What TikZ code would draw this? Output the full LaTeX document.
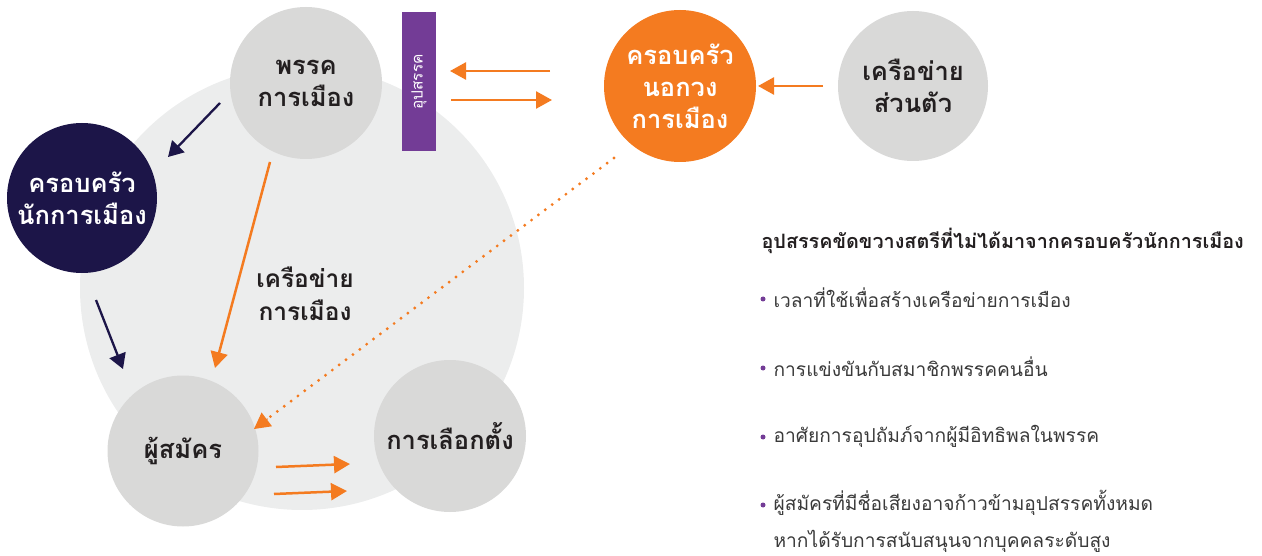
\documentclass[tikz,border=0pt]{standalone}
\usepackage{fontspec}
\newfontfamily\thai[Script=Thai]{Loma}
\usetikzlibrary{arrows.meta,calc}
\definecolor{bigc}{HTML}{ECEDED}
\definecolor{grayc}{HTML}{D9D9D8}
\definecolor{navy}{HTML}{1C1548}
\definecolor{orng}{HTML}{F47B20}
\definecolor{purp}{HTML}{733C96}
\definecolor{txt}{HTML}{231F20}
\definecolor{body}{HTML}{3A3A3A}
\tikzset{
  circ/.style={circle, minimum size=152pt, inner sep=0pt, align=center, font=\thai\bfseries\fontsize{25.5}{32}\selectfont, text=txt},
  oarrow/.style={draw=orng, line width=2.5pt, -{Triangle[length=16pt,width=17pt]}},
  narrow/.style={draw=navy, line width=2.3pt, -{Triangle[length=15pt,width=17pt]}},
  bullet/.style={anchor=west, align=left, font=\thai\fontsize{19.2}{37}\selectfont, text=body},
  dot/.style={circle, fill=purp, inner sep=0pt, minimum size=5pt}
}
\begin{document}
\begin{tikzpicture}[x=1pt,y=-1pt]
\useasboundingbox (0,0) rectangle (1262,556);
\node[circle, fill=bigc, minimum size=444pt, inner sep=0pt] (big) at (302,288) {};
\node[circ, fill=grayc] (party) at (306,83) {พรรค\\การเมือง};
\node[circ, fill=navy, text=white, minimum size=150pt] (fam) at (82,198) {ครอบครัว\\นักการเมือง};
\node[circ, fill=grayc, minimum size=151pt] (cand) at (183,451) {ผู้สมัคร};
\node[circ, fill=grayc] (elect) at (450,436) {การเลือกตั้ง};
\node[circ, fill=orng, text=white] (ofam) at (680,86) {ครอบครัว\\นอกวง\\การเมือง};
\node[circ, fill=grayc, minimum size=150pt] (pnet) at (913,86) {เครือข่าย\\ส่วนตัว};
\node[fill=purp, minimum width=34pt, minimum height=139pt, inner sep=0pt] (bar) at (419,82) {};
\node[rotate=90, text=white, font=\thai\fontsize{15.5}{17}\selectfont] (barlbl) at (bar.center) {อุปสรรค};
\node[font=\thai\bfseries\fontsize{24.5}{33}\selectfont, text=txt, align=center] (netlbl) at (305,294) {เครือข่าย\\การเมือง};
% arrow coordinates
\coordinate (a1s) at (550,71); \coordinate (a1e) at (450,71);
\coordinate (a2s) at (451,100); \coordinate (a2e) at (552,100);
\coordinate (a3s) at (823,86); \coordinate (a3e) at (758,86);
\coordinate (n1s) at (220,103); \coordinate (n1e) at (168,157);
\coordinate (n2s) at (96,300); \coordinate (n2e) at (123,369);
\coordinate (o1s) at (270,162); \coordinate (o1e) at (215,368);
\coordinate (ds) at (614,158); \coordinate (de) at (254,429);
\coordinate (dm) at ($(de)!17pt!(ds)$);
\coordinate (b1s) at (276,467); \coordinate (b1e) at (350,464);
\coordinate (b2s) at (274,494); \coordinate (b2e) at (347,491);
\draw[oarrow] (a1s) -- (a1e);
\draw[oarrow] (a2s) -- (a2e);
\draw[oarrow] (a3s) -- (a3e);
\draw[narrow] (n1s) -- (n1e);
\draw[narrow] (n2s) -- (n2e);
\draw[oarrow] (o1s) -- (o1e);
\draw[oarrow] (b1s) -- (b1e);
\draw[oarrow] (b2s) -- (b2e);
\draw[draw=orng, line width=3.2pt, line cap=round, dash pattern=on 0pt off 8.6pt] (ds) -- (dm);
\draw[draw=orng, fill=orng, line width=1pt, -{Triangle[length=16pt,width=17pt]}] (dm) -- (de);
% right text
\node[anchor=west, font=\thai\bfseries\fontsize{19.8}{24}\selectfont, text=txt] (head) at (758,241) {อุปสรรคขัดขวางสตรีที่ไม่ได้มาจากครอบครัวนักการเมือง};
\node[dot] (d1) at (763,299) {};
\node[bullet] (t1) at (770,298) {เวลาที่ใช้เพื่อสร้างเครือข่ายการเมือง};
\node[dot] (d2) at (763,368) {};
\node[bullet] (t2) at (770,367) {การแข่งขันกับสมาชิกพรรคคนอื่น};
\node[dot] (d3) at (763,437) {};
\node[bullet] (t3) at (770,436) {อาศัยการอุปถัมภ์จากผู้มีอิทธิพลในพรรค};
\node[dot] (d4) at (763,505) {};
\node[bullet, anchor=north west] (t4) at (770,487) {ผู้สมัครที่มีชื่อเสียงอาจก้าวข้ามอุปสรรคทั้งหมด\\หากได้รับการสนับสนุนจากบุคคลระดับสูง};
\end{tikzpicture}
\end{document}
